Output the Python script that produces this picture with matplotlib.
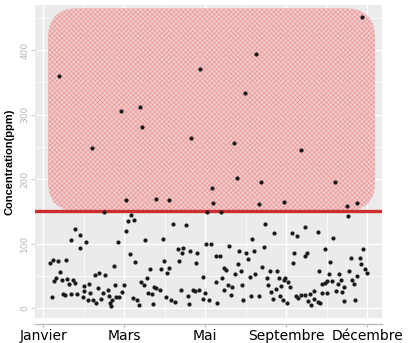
import numpy as np
import matplotlib
matplotlib.use("Agg")
import matplotlib.pyplot as plt
from matplotlib.patches import FancyBboxPatch

# x = day index, y = concentration (ppm)
high_x = [20, 60, 96, 120, 122, 183, 194, 394, 263, 249, 236, 319, 102, 140, 156,
          240, 209, 269, 210, 267, 298, 360, 375, 388, 202, 220, 75]
high_y = [360, 248, 305, 312, 281, 264, 371, 451, 394, 333, 256, 245, 167, 169, 167,
          202, 186, 195, 163, 161, 164, 195, 158, 163, 149, 149, 149]

low_x = [39, 46, 35, 53, 45, 9, 12, 18, 28, 21, 16, 14, 23, 30, 37, 32, 40, 64, 69, 76,
         57, 50, 51, 58, 68, 74, 11, 25, 27, 34, 42, 49, 55, 62, 65, 71,
         109, 105, 112, 102, 160, 93, 126, 148, 107, 114, 149, 87, 132, 146, 153, 156,
         128, 121, 125, 89, 100, 137, 140, 144, 130, 134, 98, 80, 81, 85, 90, 94, 83, 84,
         111, 116, 118, 136, 152, 158,
         176, 201, 207, 230, 166, 173, 171, 182, 190, 242, 213, 218, 168, 189, 224, 226,
         237, 198, 221, 213, 228, 233, 223, 170, 185, 187, 193, 200, 232, 179, 197, 205,
         215, 163, 180,
         274, 285, 307, 314, 258, 273, 251, 261, 310, 323, 253, 308, 241, 270, 280, 289,
         244, 262, 255, 277, 291, 299, 303, 298, 278, 294, 305, 246, 287, 282, 293, 296,
         301, 284, 266, 257, 247, 312, 315, 319,
         376, 324, 339, 358, 395, 348, 326, 380, 391, 354, 392, 398, 400, 341, 378, 365,
         353, 388, 382, 384, 368, 357, 350, 348, 345, 364, 372, 369, 362, 351, 344, 334,
         330, 323, 327, 335, 339, 342, 331, 372, 385]
low_y = [122, 114, 105, 102, 93, 70, 74, 73, 74, 56, 47, 42, 43, 45, 43, 37, 39, 51, 55, 51,
         38, 34, 27, 24, 31, 23, 17, 21, 20, 22, 21, 17, 13, 13, 8, 14,
         144, 135, 136, 120, 130, 103, 105, 107, 84, 71, 73, 65, 60, 60, 55, 62,
         46, 40, 36, 36, 35, 33, 31, 28, 23, 21, 25, 28, 19, 13, 17, 17, 7, 3,
         16, 12, 4, 6, 17, 13,
         128, 100, 100, 96, 92, 93, 86, 89, 85, 89, 81, 81, 73, 70, 62, 59,
         52, 48, 47, 41, 36, 32, 28, 28, 28, 27, 28, 24, 20, 18, 14, 13,
         8, 9, 6,
         131, 116, 117, 112, 107, 94, 86, 88, 85, 81, 76, 70, 68, 64, 58, 58,
         57, 52, 48, 47, 46, 47, 40, 43, 35, 34, 32, 35, 29, 25, 18, 12,
         8, 14, 19, 18, 12, 19, 16, 20,
         143, 125, 118, 109, 91, 92, 85, 78, 78, 71, 69, 60, 54, 57, 57, 53,
         52, 50, 43, 38, 43, 42, 42, 39, 37, 37, 32, 25, 26, 23, 24, 26,
         22, 20, 11, 14, 9, 8, 5, 11, 13]

tick_pos = [0, 100, 200, 300, 400]
tick_lab = ["Janvier", "Mars", "Mai", "Septembre", "Décembre"]
seuil = 150

plt.rcParams["hatch.linewidth"] = 0.3

fig = plt.figure(figsize=(4.10, 3.43), dpi=100)
ax = fig.add_axes([35/410, 1 - 318/343, 347/410, 313/343])
ax.set_facecolor("#ebebeb")

ax.set_xlim(-10, 418.5)
ax.set_ylim(-15.5, 470)

ax.set_xticks(tick_pos)
ax.set_xticklabels(tick_lab, fontsize=7, color="#4d4d4d", family="Liberation Sans")
ax.set_xticks([50, 150, 250, 350], minor=True)
ax.set_yticks([0, 100, 200, 300, 400])
ax.set_yticks([50, 150, 250, 350, 450], minor=True)
for lab in ax.get_yticklabels():
    lab.set_rotation(90)
    lab.set_va("center")
    lab.set_fontsize(6.5)
    lab.set_color("#b5b5b5")

ax.grid(which="major", color="white", linewidth=1.0)
ax.grid(which="minor", color="white", linewidth=0.5)
ax.set_axisbelow(True)

for s in ["top", "right", "left"]:
    ax.spines[s].set_visible(False)
ax.spines["bottom"].set_position(("outward", 4))
ax.spines["bottom"].set_color("#bbbbbb")
ax.spines["bottom"].set_linewidth(1.0)
ax.tick_params(axis="x", which="major", length=2, color="#bbbbbb", pad=2)
ax.tick_params(axis="y", which="major", length=3, color="#cccccc", pad=1)
ax.tick_params(which="minor", length=0)

# zone au-dessus du seuil
zone = FancyBboxPatch((6, seuil), 404, 315,
                      boxstyle="round,pad=0,rounding_size=37",
                      mutation_aspect=1.256,
                      facecolor="#efcaca", edgecolor="#ee8080",
                      linewidth=0, hatch="xxxxxxx", zorder=1.5)
ax.add_patch(zone)

ax.axhline(seuil, color="#cc2e2e", linewidth=2.4, zorder=2)

ax.scatter(high_x + low_x, high_y + low_y, s=9, color="#1a1a1a", zorder=3, linewidths=0)

ax.set_ylabel("Concentration(ppm)", fontsize=8, fontweight="bold", labelpad=4,
              family="Liberation Sans")

fig.savefig("out.png", dpi=100)
